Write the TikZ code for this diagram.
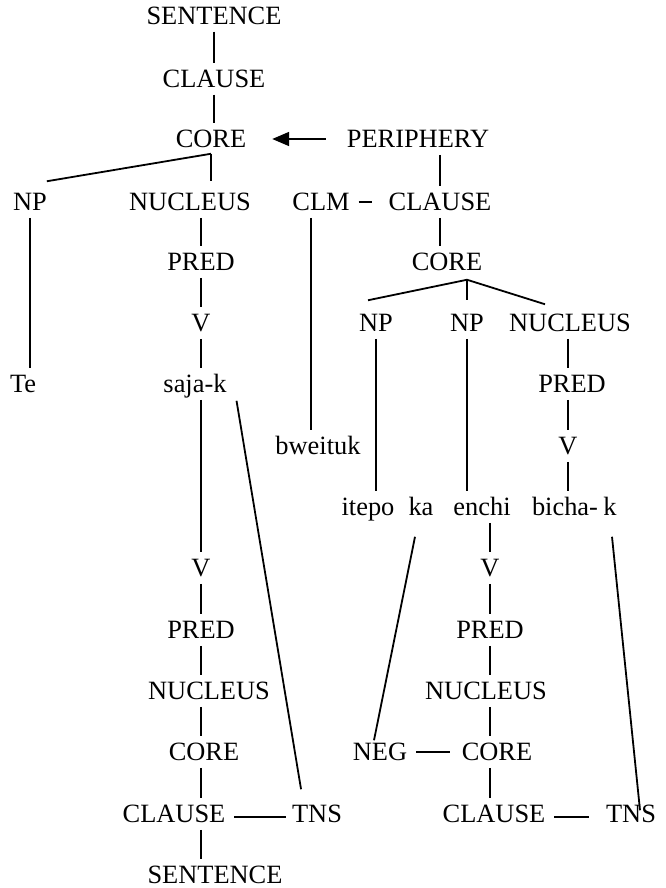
\documentclass[tikz,border=0pt]{standalone}
\usepackage{fontspec}
\setmainfont{Liberation Serif}
\usetikzlibrary{arrows.meta}

\begin{document}
\begin{tikzpicture}[x=1pt,y=-1pt,inner sep=0pt,outer sep=0pt,line width=1.8pt,
cat/.style={font=\fontsize{26.4}{30}\selectfont,text height=17.5pt,text depth=0pt},
vline/.style={shorten <=7pt,shorten >=7pt},
hline/.style={shorten <=9pt}]
\useasboundingbox (0,0) rectangle (666,888);

\draw (214,16) node[cat] (s1) {SENTENCE};
\draw (214,79) node[cat] (cl1) {CLAUSE};
\draw (211,139) node[cat] (co1) {CORE};
\draw (30,202) node[cat] (np1) {NP};
\draw (190,202) node[cat] (nu1) {NUCLEUS};
\draw (201,262) node[cat] (pr1) {PRED};
\draw (201,323) node[cat] (v1) {V};
\draw (23,384) node[cat] (te) {Te};
\draw (195,384) node[cat] (saja) {saja-k};
\draw (201,568) node[cat] (v2) {V};
\draw (201,630) node[cat] (pr2) {PRED};
\draw (209,691) node[cat] (nu2) {NUCLEUS};
\draw (204,752) node[cat] (co2) {CORE};
\draw (174,814) node[cat] (cl2) {CLAUSE};
\draw (317,814) node[cat] (tns1) {TNS};
\draw (215,875) node[cat] (s2) {SENTENCE};

\draw (418,139) node[cat] (peri) {PERIPHERY};
\draw (321,202) node[cat] (clm) {CLM};
\draw (440,202) node[cat] (cl3) {CLAUSE};
\draw (447,262) node[cat] (co3) {CORE};
\draw (376,323) node[cat] (np2) {NP};
\draw (467,323) node[cat] (np3) {NP};
\draw (570,323) node[cat] (nu3) {NUCLEUS};
\draw (572,384) node[cat] (pr3) {PRED};
\draw (318,446) node[cat] (bw) {bweituk};
\draw (568,446) node[cat] (v3) {V};
\draw (368,507) node[cat] (itepo) {itepo};
\draw (421,507) node[cat] (ka) {ka};
\draw (482,507) node[cat] (enchi) {enchi};
\draw (565,507) node[cat] (bicha) {bicha-};
\draw (610,507) node[cat] (k) {k};
\draw (490,568) node[cat] (v4) {V};
\draw (490,630) node[cat] (pr4) {PRED};
\draw (486,691) node[cat] (nu4) {NUCLEUS};
\draw (380,752) node[cat] (neg) {NEG};
\draw (497,752) node[cat] (co4) {CORE};
\draw (494,814) node[cat] (cl4) {CLAUSE};
\draw (631,814) node[cat] (tns2) {TNS};

\draw[vline] (s1.south) -- (cl1.north);
\draw[vline] (cl1.south) -- (cl1 |- co1.north);
\coordinate (ap1) at ([yshift=-6pt]co1.south);
\draw (ap1) -- ([yshift=12pt]np1.north east);
\draw[shorten >=12pt] (ap1) -- (ap1 |- nu1.north);
\draw[vline] (np1.south) -- (np1 |- te.north);
\draw[vline] (pr1 |- nu1.south) -- (pr1.north);
\draw[vline] (pr1.south) -- (v1.north);
\draw[vline] (v1.south) -- (v1 |- saja.north);
\draw[vline] (v1 |- saja.south) -- (v2.north);
\draw[vline] (v2.south) -- (pr2.north);
\draw[vline] (pr2.south) -- (pr2 |- nu2.north);
\draw[vline] (pr2 |- nu2.south) -- (pr2 |- co2.north);
\draw[vline] (pr2 |- co2.south) -- (pr2 |- cl2.north);
\draw[vline] (pr2 |- cl2.south) -- (pr2 |- s2.north);
\draw[hline,shorten >=6pt] ([yshift=-3pt]cl2.east) -- ([yshift=-3pt]tns1.west);
\draw ([xshift=10pt,yshift=-8pt]saja.south east) -- ([xshift=9pt,yshift=16pt]tns1.north west);

\draw[-{Triangle[length=17pt,width=14pt]},shorten <=21pt,shorten >=26pt] (peri.west) -- (co1.east);
\draw[vline] (cl3 |- peri.south) -- (cl3.north);
\draw[hline,shorten >=17pt] (clm.east) -- (cl3.west);
\draw[vline] (cl3.south) -- (cl3 |- co3.north);
\coordinate (ap3) at ([xshift=20pt,yshift=-9pt]co3.south);
\draw (ap3) -- ([xshift=-8pt,yshift=14pt]np2.north);
\draw[shorten >=14pt] (ap3) -- (ap3 |- np3.north);
\draw (ap3) -- ([xshift=-25pt,yshift=10pt]nu3.north);
\draw[vline] ([xshift=-10pt]clm.south) -- ([xshift=-7pt]bw.north);
\draw[vline] (np2.south) -- (np2 |- itepo.north);
\draw[vline] (np3.south) -- (np3 |- enchi.north);
\draw[vline] (v3 |- nu3.south) -- (v3 |- pr3.north);
\draw[vline] (v3 |- pr3.south) -- (v3.north);
\draw[vline] (v3.south) -- (v3 |- bicha.north);
\draw[vline] (v4 |- enchi.south) -- (v4.north);
\draw[vline] (v4.south) -- (pr4.north);
\draw[vline] (pr4.south) -- (pr4 |- nu4.north);
\draw[vline] (pr4 |- nu4.south) -- (pr4 |- co4.north);
\draw[vline] (pr4 |- co4.south) -- (pr4 |- cl4.north);
\draw[hline,shorten >=12pt] (neg.east) -- (co4.west);
\draw[hline,shorten >=17pt] ([yshift=-3pt]cl4.east) -- ([yshift=-3pt]tns2.west);
\draw ([xshift=-6pt,yshift=-21pt]ka.south) -- ([xshift=-6pt,yshift=3pt]neg.north);
\draw ([xshift=2pt,yshift=-21pt]k.south) -- ([xshift=9pt,yshift=-5pt]tns2.north);
\end{tikzpicture}
\end{document}
